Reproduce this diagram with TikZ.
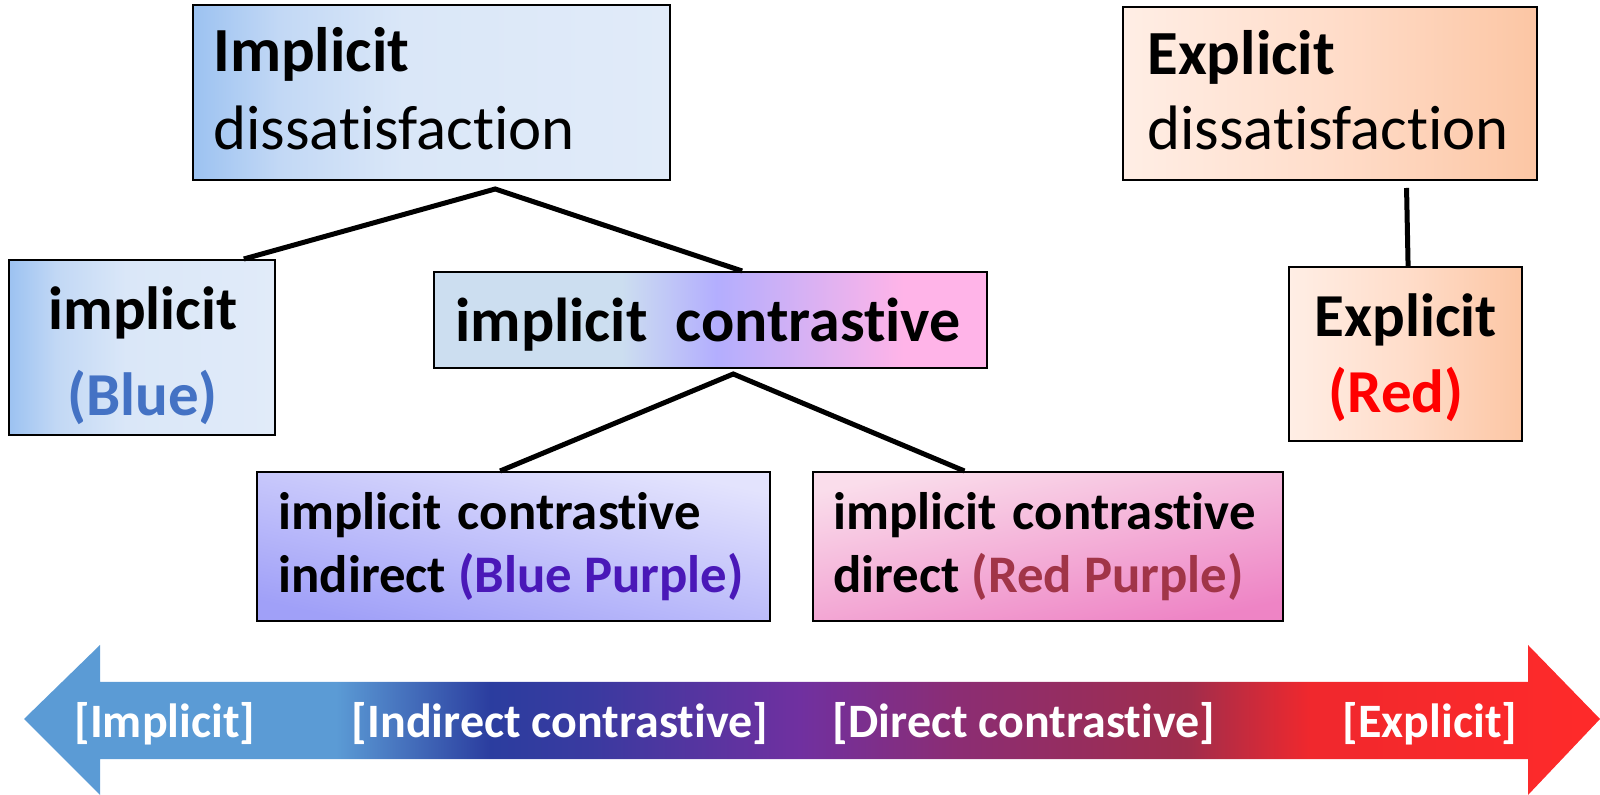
\documentclass[tikz,border=0pt]{standalone}
\usepackage{fontspec}
\setmainfont{Carlito}[Ligatures=NoCommon]
\usetikzlibrary{calc}
\definecolor{blueA}{HTML}{9CC2F1}
\definecolor{blueB}{HTML}{C2D8F5}
\definecolor{blueC}{HTML}{DAE7F8}
\definecolor{blueD}{HTML}{E1EBF9}
\definecolor{conA}{HTML}{CCDEF0}
\definecolor{conB}{HTML}{B3AEFE}
\definecolor{conC}{HTML}{FFB4E8}
\definecolor{expA}{HTML}{FFEEE5}
\definecolor{expB}{HTML}{FFDDCA}
\definecolor{expC}{HTML}{FCC6A4}
\definecolor{indTop}{HTML}{E3E3FD}
\definecolor{indMid}{HTML}{DADAFB}
\definecolor{indBot}{HTML}{A0A0F8}
\definecolor{dirTop}{HTML}{FADDEB}
\definecolor{dirMid}{HTML}{F6CEE4}
\definecolor{dirBot}{HTML}{EE84C5}
\definecolor{arA}{HTML}{5B9BD5}
\definecolor{arB}{HTML}{2B3D9F}
\definecolor{arB2}{HTML}{3A3AA0}
\definecolor{arC}{HTML}{7030A0}
\definecolor{arD}{HTML}{8B2D74}
\definecolor{arE}{HTML}{A02D4C}
\definecolor{arF}{HTML}{F0282D}
\definecolor{arG}{HTML}{FF2A2A}
\definecolor{txBlue}{HTML}{4472C4}
\definecolor{txBluePurple}{HTML}{4A18B8}
\definecolor{txRedPurple}{HTML}{A13548}
\definecolor{txRed}{HTML}{FF0000}
\pgfdeclarehorizontalshading{blueshade}{100bp}{color(0bp)=(blueA); color(25bp)=(blueA); color(34bp)=(blueB); color(47bp)=(blueC); color(75bp)=(blueD); color(100bp)=(blueD)}
\pgfdeclarehorizontalshading{conshade}{100bp}{color(0bp)=(conA); color(25bp)=(conA); color(42bp)=(conA); color(50.5bp)=(conB); color(67.5bp)=(conC); color(100bp)=(conC)}
\pgfdeclarehorizontalshading{expshade}{100bp}{color(0bp)=(expA); color(25bp)=(expA); color(50bp)=(expB); color(75bp)=(expC); color(100bp)=(expC)}
\pgfdeclarehorizontalshading{arrowshade}{100bp}{color(0bp)=(arA); color(34.9bp)=(arA); color(39.8bp)=(arB); color(43bp)=(arB2); color(49.6bp)=(arC); color(54.5bp)=(arD); color(61.9bp)=(arE); color(65.8bp)=(arF); color(75bp)=(arG); color(100bp)=(arG)}
\newcommand\FTop{\fontsize{31.4pt}{37pt}\selectfont}
\newcommand\FMid{\fontsize{30.5pt}{36pt}\selectfont}
\newcommand\FCon{\fontsize{31pt}{36pt}\selectfont}
\newcommand\FLow{\fontsize{26.4pt}{31pt}\selectfont}
\newcommand\FArr{\fontsize{24pt}{29pt}\selectfont}
\begin{document}
\begin{tikzpicture}[x=0.5pt,y=-0.5pt,
  box/.style={draw=black,line width=1pt,inner sep=0pt,rectangle},
  conn/.style={line width=2.5pt,draw=black},
  txt/.style={inner sep=0pt,anchor=base west},
  ctxt/.style={inner sep=0pt,anchor=base}]
\useasboundingbox (0,0) rectangle (1600,795);

% boxes
\node[box,shade,shading=blueshade,minimum width=238.5pt,minimum height=87.5pt] (idis) at (431.5,92.5) {};
\node[box,shade,shading=blueshade,minimum width=133pt,minimum height=87.5pt] (impl) at (142,347.5) {};
\node[box,shade,shading=conshade,minimum width=276.5pt,minimum height=48pt] (contr) at (710.5,320) {};
\node[box,top color=indTop,middle color=indMid,bottom color=indBot,shading angle=-12,minimum width=256.5pt,minimum height=74.5pt] (ind) at (513.5,546.5) {};
\node[box,top color=dirTop,middle color=dirMid,bottom color=dirBot,shading angle=12,minimum width=235pt,minimum height=74.5pt] (dir) at (1048,546.5) {};
\node[box,shade,shading=expshade,minimum width=207pt,minimum height=86.5pt] (edis) at (1330,93.5) {};
\node[box,shade,shading=expshade,minimum width=116.5pt,minimum height=87pt] (expl) at (1405.5,354) {};

% texts
\node[txt] (idisA) at (213,72) {\FTop\bfseries Implicit};
\node[txt] (idisB) at (213,150) {\FTop dissatisfaction};
\node[ctxt] (implA) at (143,330) {\FMid\bfseries implicit};
\node[ctxt,text=txBlue] (implB) at (142.5,416) {\FMid\bfseries (Blue)};
\node[txt] (contrA) at (455,342) {\FCon\bfseries implicit\hspace{7pt} contrastive};
\node[txt] (indA) at (278,530) {\FLow\bfseries implicit\hspace{2pt} contrastive};
\node[txt] (indB) at (278,593) {\FLow\bfseries indirect \textcolor{txBluePurple}{(Blue Purple)}};
\node[txt] (dirA) at (833,530) {\FLow\bfseries implicit\hspace{2pt} contrastive};
\node[txt] (dirB) at (833,593) {\FLow\bfseries direct \textcolor{txRedPurple}{(Red Purple)}};
\node[txt] (edisA) at (1147,75) {\FTop\bfseries Explicit};
\node[txt] (edisB) at (1147,150) {\FTop dissatisfaction};
\node[ctxt] (explA) at (1406,337) {\FMid\bfseries Explicit};
\node[ctxt,text=txRed] (explB) at (1396,413) {\FMid\bfseries (Red)};

% connectors
\coordinate (forkA) at ($(idis.south west)!0.633!(idis.south east)+(0,8)$);
\coordinate (forkB) at ($(contr.south west)!0.541!(contr.south east)+(0,5)$);
\coordinate (forkC) at ($(edis.south west)!0.684!(edis.south east)+(0,7)$);
\draw[conn] ($(impl.north west)!0.88!(impl.north east)$) -- (forkA) -- ($(contr.north west)!0.557!(contr.north east)$);
\draw[conn] ($(ind.north west)!0.474!(ind.north east)$) -- (forkB) -- ($(dir.north west)!0.323!(dir.north east)$);
\draw[conn] (forkC) -- ($(expl.north west)!0.511!(expl.north east)$);

% scale arrow
\shade[shading=arrowshade] (24,719) -- (100,645) -- (100,682) -- (1528,682) -- (1528,645) -- (1600,719) -- (1528,795) -- (1528,759) -- (100,759) -- (100,795) -- cycle;
\node[ctxt,text=white] (lImp) at (165,737) {\FArr\bfseries [Implicit]};
\node[ctxt,text=white] (lInd) at (560,737) {\FArr\bfseries [Indirect contrastive]};
\node[ctxt,text=white] (lDir) at (1024,737) {\FArr\bfseries [Direct contrastive]};
\node[ctxt,text=white] (lExp) at (1430,737) {\FArr\bfseries [Explicit]};
\end{tikzpicture}
\end{document}
